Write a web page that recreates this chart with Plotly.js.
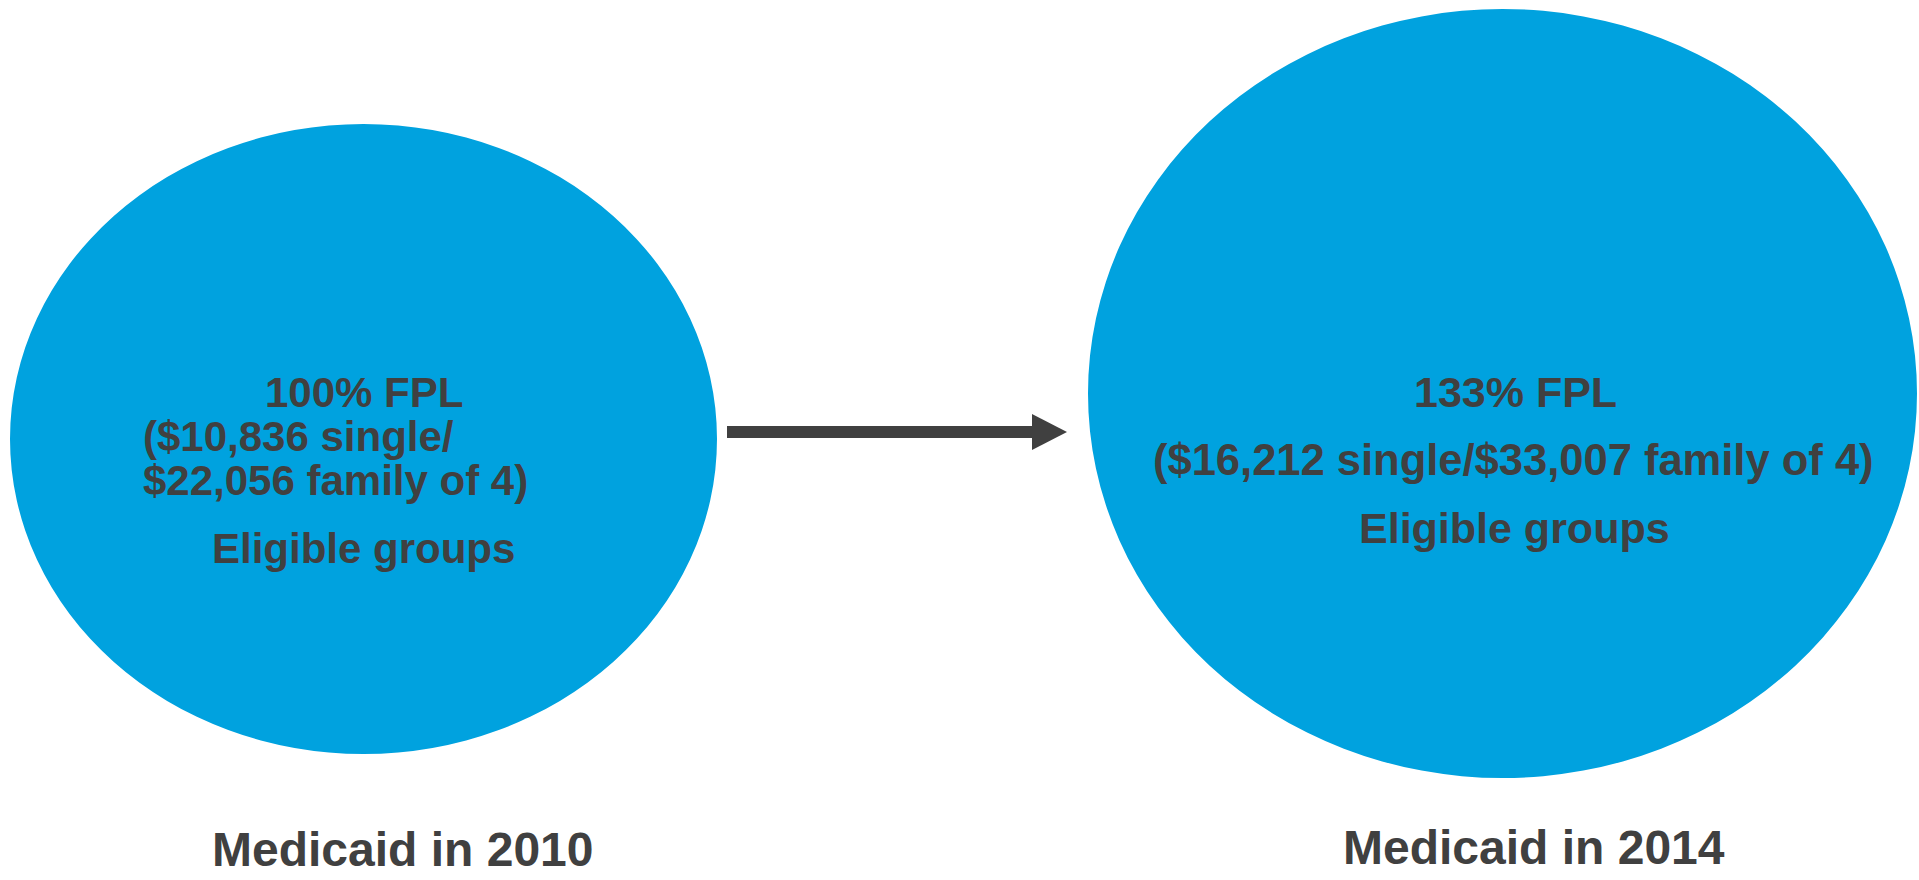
<!DOCTYPE html>
<html>
<head>
<meta charset="utf-8">
<script src="https://cdn.plot.ly/plotly-3.0.1.min.js"></script>
<style>
html,body{margin:0;padding:0;background:#fff;}
#chart{width:1919px;height:880px;}
</style>
</head>
<body>
<div id="chart"></div>
<script>
// ---- data ----
const periods = ['Medicaid in 2010', 'Medicaid in 2014'];
const fplPercent = [100, 133];
const singleIncome = [10836, 16212];
const familyIncome = [22056, 33007];
const groupLabel = ['Eligible groups', 'Eligible groups'];

// ---- styling ----
const BLUE = '#00A2DF';
const DARK = '#404040';
const FONT = 'Liberation Sans, Arial, Helvetica, sans-serif';
const fmt = v => '$' + v.toLocaleString('en-US');

function txt(x, y, text, size, xanchor, yanchor) {
  return {
    x: x, y: y, xref: 'x', yref: 'y', text: text, showarrow: false,
    xanchor: xanchor || 'center', yanchor: yanchor || 'middle',
    font: {family: FONT, size: size, color: DARK, weight: 700}
  };
}

const shapes = [
  {type: 'circle', xref: 'x', yref: 'y', x0: 10, x1: 717, y0: 124, y1: 754,
   fillcolor: BLUE, line: {width: 0}, layer: 'below'},
  {type: 'circle', xref: 'x', yref: 'y', x0: 1088, x1: 1917, y0: 9, y1: 778,
   fillcolor: BLUE, line: {width: 0}, layer: 'below'},
  // arrow shaft
  {type: 'rect', xref: 'x', yref: 'y', x0: 727, x1: 1033, y0: 426, y1: 438,
   fillcolor: DARK, line: {width: 0}},
  // arrow head
  {type: 'path', xref: 'x', yref: 'y', path: 'M 1032 414 L 1067 432 L 1032 450 Z',
   fillcolor: DARK, line: {width: 0}}
];

const annotations = [
  txt(364, 392, fplPercent[0] + '% FPL', 42),
  txt(141, 436, '(' + fmt(singleIncome[0]) + ' single/', 42, 'left'),
  txt(141, 480, fmt(familyIncome[0]) + ' family of 4)', 42, 'left'),
  txt(363, 548, groupLabel[0], 42),
  txt(1515, 392, fplPercent[1] + '% FPL', 43),
  txt(1513, 460, '(' + fmt(singleIncome[1]) + ' single/' + fmt(familyIncome[1]) + ' family of 4)', 43.5),
  txt(1514, 528, groupLabel[1], 43),
  txt(403, 878, periods[0], 48, 'center', 'bottom'),
  txt(1534, 876, periods[1], 48, 'center', 'bottom')
];

const layout = {
  width: 1919, height: 880,
  margin: {l: 0, r: 0, t: 0, b: 0},
  paper_bgcolor: '#ffffff', plot_bgcolor: '#ffffff',
  xaxis: {range: [0, 1919], visible: false, fixedrange: true},
  yaxis: {range: [880, 0], visible: false, fixedrange: true},
  showlegend: false,
  shapes: shapes,
  annotations: annotations
};

Plotly.newPlot('chart', [{x: [], y: [], type: 'scatter', hoverinfo: 'skip'}], layout,
  {displayModeBar: false, staticPlot: true});
</script>
</body>
</html>
